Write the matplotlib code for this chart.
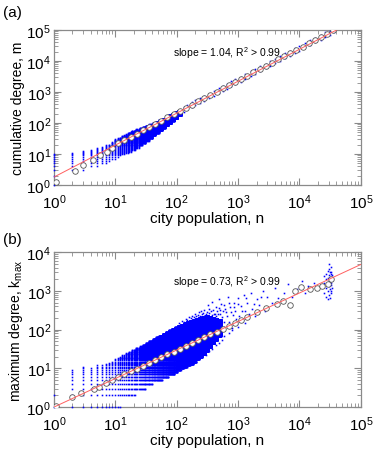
import matplotlib
matplotlib.use("Agg")
import matplotlib.pyplot as plt
from matplotlib.ticker import LogLocator, NullFormatter

plt.rcParams.update(
    {
        "font.family": ["Liberation Sans", "DejaVu Sans"],
        "mathtext.fontset": "custom",
        "mathtext.rm": "Liberation Sans",
        "mathtext.it": "Liberation Sans:italic",
        "axes.linewidth": 0.9,
        "axes.edgecolor": "#8a8a8a",
    }
)

# ---------------------------
# (a) cumulative degree m vs city population n
# ---------------------------
# dense part: blocks of integer n with integer m ranges
a_n0 = [1, 2, 3, 4, 5, 6, 7, 8, 9, 10, 11, 12, 13, 14, 15, 16, 17, 18, 19, 22, 25, 28,
        32, 36, 41, 46, 52, 59, 66, 74, 83, 93, 104]
a_n1 = [1, 2, 3, 4, 5, 6, 7, 8, 9, 10, 11, 12, 13, 14, 15, 16, 17, 18, 21, 24, 27, 31,
        35, 40, 45, 51, 58, 65, 73, 82, 92, 103, 116]
a_lo = [1, 3, 3, 4, 4, 5, 5, 6, 7, 7, 8, 9, 10, 10, 11, 11, 12, 12, 14, 16, 19, 22,
        27, 32, 40, 48, 58, 70, 85, 100, 120, 145, 175]
a_hi = [10, 11, 13, 14, 16, 17, 19, 20, 24, 30, 32, 34, 38, 40, 43, 46, 49, 52, 56, 62, 68, 74,
        82, 90, 100, 112, 125, 140, 158, 178, 198, 220, 250]

# sparse part along the fit
a_big_n = [130, 130, 150, 150, 175, 175, 200, 200, 240, 240, 280, 280,
           330, 330, 400, 400, 480, 480, 560, 560, 650, 650, 780, 780, 900, 900,
           1100, 1100, 1300, 1300, 1600, 1600, 1900, 1900, 2300, 2300, 2800, 2800,
           3300, 3300, 4000, 4000, 4800, 4800, 5800, 5800, 7000, 7000, 8500, 8500,
           10000, 10000, 12500, 12500, 15000, 15000, 18000, 18000, 22000, 22000,
           26000, 26000, 31000, 31000, 36000]
a_big_m = [235, 340, 275, 395, 320, 465, 370, 535, 450, 645, 525, 755,
           620, 895, 760, 1090, 920, 1320, 1080, 1550, 1260, 1810, 1530, 2190, 1770, 2540,
           2180, 3140, 2590, 3730, 3210, 4630, 3840, 5530, 4690, 6750, 5750, 8270,
           6810, 9810, 8320, 11980, 10070, 14500, 12260, 17670, 14920, 21480, 18240, 26280,
           21630, 31060, 27290, 39270, 32940, 47360, 39780, 57300, 49000, 70600,
           58400, 84100, 70100, 96000, 88000]

# binned averages
a_circ_n = [1.1, 2.2, 3, 4.4, 5.6, 7.2, 8.9,
            11.2, 14.1, 17.8, 22.4, 28.2, 35.5, 44.7, 56.2, 70.8, 89.1,
            112, 141, 178, 224, 282, 355, 447, 562, 708, 891,
            1122, 1413, 1778, 2239, 2818, 3548, 4467, 5623, 7079, 8913,
            11220, 14125, 17783, 22387, 28184, 35481]
a_circ_m = [1.25, 2.9, 4.5, 6.6, 9.0, 11.8, 15.5,
            22.2, 28.3, 35.9, 45.6, 57.9, 73.6, 93.5, 119, 151, 192,
            244, 310, 394, 500, 635, 807, 1026, 1303, 1656, 2104,
            2673, 3396, 4315, 5483, 6966, 8851, 11246, 14289, 18155, 23067,
            29309, 37239, 47315, 60117, 76384, 97051]

a_fit_n = [1, 40000]
a_fit_m = [1.8, 1.0e5]

# ---------------------------
# (b) maximum degree kmax vs city population n
# ---------------------------
b_n0 = [1, 2, 3, 4, 5, 6, 7, 8, 9, 10, 11, 12, 13, 15, 17, 19, 22, 25, 28, 32, 36, 41,
        46, 52, 59, 66, 74, 83, 93, 104, 117, 131, 147, 165, 185, 207, 232, 260, 292,
        328, 368, 413, 463]
b_n1 = [1, 2, 3, 4, 5, 6, 7, 8, 9, 10, 11, 12, 14, 16, 18, 21, 24, 27, 31, 35, 40, 45,
        51, 58, 65, 73, 82, 92, 103, 116, 130, 146, 164, 184, 206, 231, 259, 291, 327,
        367, 412, 462, 520]
b_lo = [1, 1, 1, 1, 1, 1, 1, 1, 1, 1, 1, 1, 2, 2, 2, 2, 3, 3, 3, 4, 4, 5,
        5, 5, 6, 6, 7, 7, 8, 9, 10, 11, 12, 13, 15, 17, 20, 24, 28,
        35, 45, 55, 70]
b_hi = [2, 9, 11, 10, 12, 12, 13, 14, 15, 17, 18, 20, 22, 25, 27, 30, 34, 37, 41, 46, 52, 58,
        64, 70, 78, 86, 95, 104, 114, 125, 135, 145, 158, 170, 180, 190, 200, 210, 220,
        210, 200, 190, 180]

b_big_n = [110, 120, 130, 140, 150, 160, 170, 180, 190, 200, 210, 220, 230, 240,
           250, 260, 270, 280, 300, 310, 330, 340, 360, 370, 390, 410, 430, 440,
           460, 470, 490, 510, 530, 560, 590, 620, 660, 720, 760, 860, 920, 980,
           1150, 1350, 1800, 2400,
           300, 340, 380, 430, 480, 550, 600, 700, 800, 1000, 1300,
           320, 350, 380, 400, 420, 450, 480, 500, 520, 550, 580, 600, 640, 680,
           700, 750, 800, 820, 850, 900, 950, 1000, 1050, 1100, 1200, 1250, 1300,
           1400, 1500, 1600, 1700, 1900, 2000, 2200, 2500, 2700, 3000, 3500, 4000,
           4500, 5500, 6500, 7500, 9000, 11000, 12500, 14000, 17000, 20000,
           25000, 25000, 25000, 27000, 27000, 27000, 27000, 29000, 29000, 29000,
           29000, 29000, 30000, 30000, 30000, 30000, 30000, 30000, 31000, 31000,
           31000, 31000, 31000, 32000, 32000, 32000, 32000, 33000, 33000, 33000,
           33000, 33000, 34000, 34000, 34000]
b_big_k = [150, 170, 160, 190, 175, 210, 195, 230, 215, 260, 225, 245, 280, 230,
           300, 250, 270, 320, 260, 290, 350, 270, 310, 240, 330, 260, 380, 230,
           300, 250, 360, 260, 450, 300, 160, 350, 220, 480, 280, 380, 190, 450,
           300, 650, 450, 700,
           22, 28, 32, 40, 45, 55, 70, 80, 110, 120, 150,
           420, 180, 520, 90, 260, 150, 600, 330, 70, 210, 420, 120, 280, 700,
           160, 380, 95, 240, 500, 300, 140, 650, 220, 400, 180, 800, 300,
           500, 250, 900, 350, 220, 600, 420, 1000, 300, 700, 500, 1200,
           650, 900, 1500, 700, 1100, 1800, 900, 1300, 1600, 1200,
           900, 1600, 2400, 700, 1200, 2000, 2800, 600, 1000, 1500, 2200, 3300,
           800, 1300, 1800, 2500, 3600, 4900, 650, 1100, 1700, 2300, 3000, 900,
           1400, 2000, 2700, 1000, 1600, 2100, 3000, 4200, 1200, 1900, 2600]

b_circ_n = [1.1, 2, 2.8, 4.5, 5.5, 7, 8.9,
            11.2, 14.1, 17.8, 22.4, 28.2, 35.5, 44.7, 56.2, 70.8, 89.1,
            112, 141, 178, 224, 282, 355, 447, 562, 708, 891, 1122,
            1380, 2000, 2900, 4230, 5400, 6900, 8400, 10700, 14700, 19000,
            23000, 29500, 33000]
b_circ_k = [1.05, 1.8, 2.3, 3.0, 3.4, 4.1, 5.0,
            5.9, 7.0, 8.3, 9.9, 11.7, 13.8, 16.4, 19.4, 23.0, 27.2,
            32.3, 38.2, 45.3, 53.7, 63.6, 75.3, 89.2, 106, 125, 148, 176,
            215, 280, 360, 450, 560, 420, 1000, 1250, 1100, 1200,
            1330, 1480, 1990]

b_fit_n = [1, 1e5]
b_fit_k = [1.0, 4800]


def grid_points(n0s, n1s, los, his):
    xs, ys = [], []
    for n0, n1, lo, hi in zip(n0s, n1s, los, his):
        for n in range(n0, n1 + 1):
            for k in range(lo, hi + 1):
                xs.append(n)
                ys.append(k)
    return xs, ys


def style_axis(ax, ymax):
    ax.set_xscale("log")
    ax.set_yscale("log")
    ax.set_xlim(1, 1e5)
    ax.set_ylim(1, ymax)
    ax.xaxis.set_major_locator(LogLocator(base=10, numticks=10))
    ax.yaxis.set_major_locator(LogLocator(base=10, numticks=10))
    ax.xaxis.set_minor_locator(LogLocator(base=10, subs=range(2, 10), numticks=20))
    ax.yaxis.set_minor_locator(LogLocator(base=10, subs=range(2, 10), numticks=20))
    ax.xaxis.set_minor_formatter(NullFormatter())
    ax.yaxis.set_minor_formatter(NullFormatter())
    ax.tick_params(which="both", direction="in", top=True, right=True,
                   color="#8a8a8a", labelsize=11)
    ax.tick_params(which="major", length=5, width=0.8)
    ax.tick_params(which="minor", length=2.8, width=0.6)
    ax.tick_params(axis="x", which="major", pad=5)
    ax.tick_params(axis="y", which="major", pad=2)
    ax.set_xlabel("city population, n", fontsize=11, labelpad=0)


fig = plt.figure(figsize=(3.74, 4.56), dpi=100)
ax1 = fig.add_axes([0.144, 0.592, 0.821, 0.340])
ax2 = fig.add_axes([0.144, 0.105, 0.821, 0.340])

dot = dict(marker="s", ms=1.15, mew=0, color="#0000ff", linestyle="none", clip_on=False)
circ = dict(marker="o", ms=4.0, mfc="white", mec="#555555", mew=0.6, linestyle="none")
fit = dict(color="#ff6060", lw=0.7)

# panel (a)
xa, ya = grid_points(a_n0, a_n1, a_lo, a_hi)
ax1.plot(xa, ya, zorder=3, **dot)
ax1.plot(a_big_n, a_big_m, zorder=3, **dot)
ax1.plot(a_circ_n, a_circ_m, zorder=4, **circ)
ax1.plot(a_fit_n, a_fit_m, zorder=5, **fit)
style_axis(ax1, 1e5)
ax1.set_ylabel("cumulative degree, m", fontsize=10, labelpad=1)
ax1.text(0.565, 0.858, r"slope = 1.04, R$^2$ > 0.99", transform=ax1.transAxes,
         ha="center", va="center", fontsize=7.5)

# panel (b)
xb, yb = grid_points(b_n0, b_n1, b_lo, b_hi)
ax2.plot(xb, yb, zorder=3, **dot)
ax2.plot(b_big_n, b_big_k, zorder=3, **dot)
ax2.plot(b_circ_n, b_circ_k, zorder=4, **circ)
ax2.plot(b_fit_n, b_fit_k, zorder=5, **fit)
style_axis(ax2, 1e4)
ax2.set_ylabel(r"maximum degree, k$_{\rm max}$", fontsize=10, labelpad=1)
ax2.text(0.565, 0.81, r"slope = 0.73, R$^2$ > 0.99", transform=ax2.transAxes,
         ha="center", va="center", fontsize=7.5)

fig.text(0.008, 0.972, "(a)", fontsize=11, ha="left", va="center")
fig.text(0.008, 0.474, "(b)", fontsize=11, ha="left", va="center")

fig.savefig("out.png", dpi=100)
